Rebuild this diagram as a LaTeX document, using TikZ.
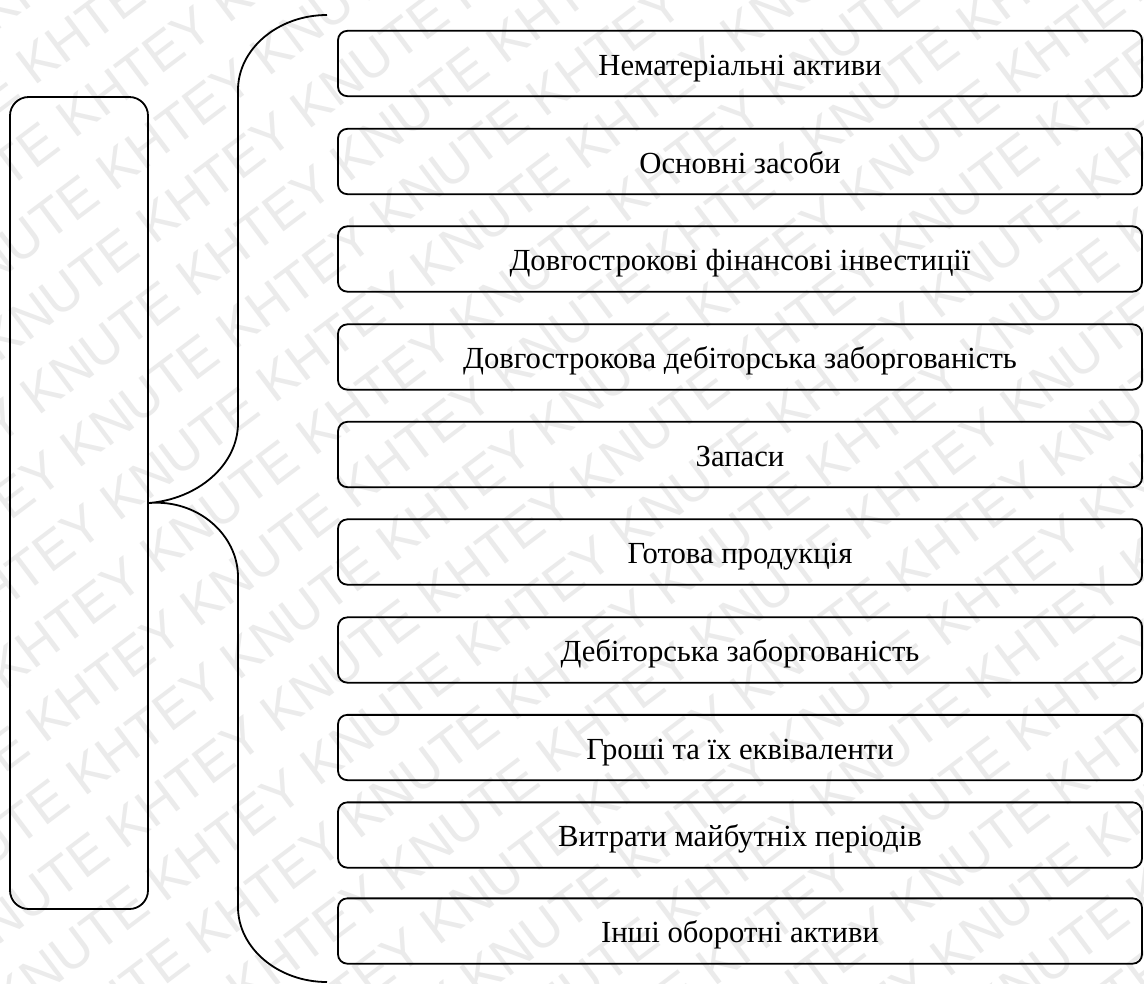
\documentclass[tikz,border=0pt]{standalone}
\usepackage{fontspec}
\setmainfont{Liberation Serif}
\newfontfamily\wmfont{Liberation Sans}
\usetikzlibrary{calc}
\tikzset{
  box/.style={draw, line width=1.35pt, rounded corners=7pt, minimum width=603pt, minimum height=49pt, inner sep=0pt},
  mainbox/.style={draw, line width=1.35pt, rounded corners=14pt, minimum width=103.5pt, minimum height=609pt, inner sep=0pt},
  lbl/.style={anchor=base, inner sep=0pt, font=\fontsize{23}{27}\selectfont},
  bracel/.style={line width=1.35pt},
  wm/.style={text=black!8, font=\wmfont\fontsize{40}{40}\selectfont, inner sep=0pt, rotate=37}
}
\begin{document}
\begin{tikzpicture}[x=0.75pt, y=-0.75pt]
\useasboundingbox (0,0) rectangle (1144,983);
\fill[white] (0,0) rectangle (1144,983);
% watermark
\begin{scope}
  \clip (0,0) rectangle (1144,983);
  \foreach \i in {-11,...,11} {
    \node[wm] (wm\i) at ($(572,491)+\i*(40,53)$) {KNUTE KHTEY KNUTE KHTEY KNUTE KHTEY KNUTE KHTEY KNUTE KHTEY KNUTE KHTEY};
  }
\end{scope}
% main box
\node[mainbox] (main) at (79,503) {};
% items
\node[box] (b1)  at (740,63.5) {};
\node[box] (b2)  at (740,161.5) {};
\node[box] (b3)  at (740,259) {};
\node[box] (b4)  at (740,357) {};
\node[box] (b5)  at (740,454.5) {};
\node[box] (b6)  at (740,552) {};
\node[box] (b7)  at (740,650) {};
\node[box] (b8)  at (740,747.5) {};
\node[box] (b9)  at (740,835) {};
\node[box] (b10) at (740,931) {};
\node[lbl] (t1)  at ($(b1.center)+(0,11.5)$) {Нематеріальні активи};
\node[lbl] (t2)  at ($(b2.center)+(0,11.5)$) {Основні засоби};
\node[lbl] (t3)  at ($(b3.center)+(0,11.5)$) {Довгострокові фінансові інвестиції};
\node[lbl] (t4)  at ($(b4.center)+(0,11.5)$) {Довгострокова дебіторська заборгованість};
\node[lbl] (t5)  at ($(b5.center)+(0,11.5)$) {Запаси};
\node[lbl] (t6)  at ($(b6.center)+(0,11.5)$) {Готова продукція};
\node[lbl] (t7)  at ($(b7.center)+(0,11.5)$) {Дебіторська заборгованість};
\node[lbl] (t8)  at ($(b8.center)+(0,11.5)$) {Гроші та їх еквіваленти};
\node[lbl] (t9)  at ($(b9.center)+(0,11.5)$) {Витрати майбутніх періодів};
\node[lbl] (t10) at ($(b10.center)+(0,11.5)$) {Інші оборотні активи};
% brace
\coordinate (btop) at (327,15);
\coordinate (bbot) at (327,982);
\draw[bracel] (btop) .. controls (278,15) and (238,49) .. (238,90)
  -- (238,423) .. controls (238,465) and (198,499) .. (main.east)
  .. controls (198,499) and (238,535) .. (238,577)
  -- (238,907) .. controls (238,948) and (278,982) .. (bbot);
\end{tikzpicture}
\end{document}
